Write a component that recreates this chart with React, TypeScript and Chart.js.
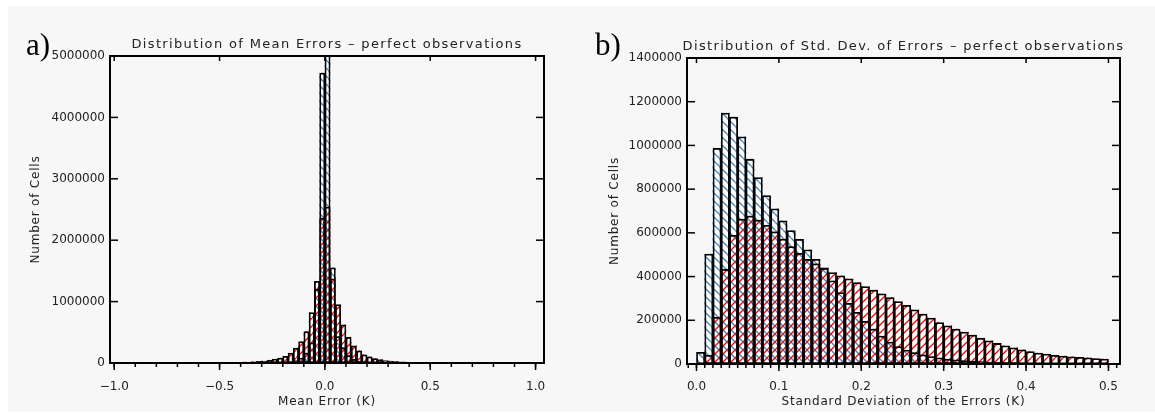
import React, { useRef, useEffect } from 'react';
import { Chart, registerables } from 'chart.js';

Chart.register(...registerables);

// a) mean errors: 0.025 K bins starting at -0.6 K
const MEAN_BIN = 0.025;
const MEAN_FIRST = -0.6;
const meanRed = [
  5000, 5000, 6000, 6000, 7000, 8000, 9000, 11000, 14000, 17000,
  21000, 26000, 32000, 45000, 62000, 80000, 110000, 160000, 245000, 350000,
  510000, 820000, 1330000, 2360000, 2540000, 1370000, 950000, 620000, 420000, 280000,
  200000, 135000, 100000, 72000, 55000, 40000, 31000, 24000, 18000, 14000,
  11000, 9000, 8000, 7000, 6000, 5000, 5000, 0,
];
const meanBlue = [
  0, 0, 0, 0, 0, 0, 0, 0, 0, 0,
  0, 0, 0, 0, 2000, 4000, 9000, 20000, 40000, 80000,
  160000, 330000, 1200000, 4720000, 5600000, 1550000, 430000, 250000, 120000, 60000,
  30000, 15000, 8000, 4000, 2000, 0, 0, 0, 0, 0,
  0, 0, 0, 0, 0, 0, 0, 0,
];
const meanXTicks = [-1.0, -0.5, 0.0, 0.5, 1.0];
const meanYTicks = [0, 1000000, 2000000, 3000000, 4000000, 5000000];

// b) std. dev. of errors: 0.01 K bins starting at 0
const STD_BIN = 0.01;
const STD_FIRST = 0.0;
const stdRed = [
  2000, 40000, 214000, 433000, 589000, 663000, 677000, 659000, 634000, 605000,
  572000, 537000, 506000, 479000, 458000, 438000, 418000, 403000, 390000, 372000,
  354000, 338000, 321000, 304000, 286000, 268000, 248000, 228000, 210000, 190000,
  175000, 160000, 146000, 132000, 118000, 106000, 94000, 83000, 74000, 65000,
  57000, 50000, 45000, 40000, 36000, 33000, 30000, 28000, 25000, 23000,
];
const stdBlue = [
  53000, 503000, 987000, 1148000, 1130000, 1039000, 937000, 853000, 771000, 710000,
  655000, 610000, 570000, 522000, 479000, 440000, 380000, 327000, 278000, 236000,
  195000, 160000, 128000, 100000, 80000, 64000, 52000, 42000, 34000, 28000,
  23000, 19000, 16000, 13000, 11000, 9000, 8000, 7000, 6000, 5000,
  4000, 4000, 3000, 3000, 2000, 2000, 2000, 1000, 1000, 1000,
];
const stdXTicks = [0.0, 0.1, 0.2, 0.3, 0.4, 0.5];
const stdYTicks = [0, 200000, 400000, 600000, 800000, 1000000, 1200000, 1400000];

interface PanelSpec {
  letter: string;
  title: string;
  xTitle: string;
  first: number;
  bin: number;
  red: number[];
  blue: number[];
  xTicks: number[];
  xMinor: number;
  yTicks: number[];
  xMin: number;
  xMax: number;
  yMax: number;
  width: number;
  padTop: number;
  padRight: number;
  yWidth: number;
  xHeight: number;
  xLabelPad: number;
  titleY: number;
  xTitleY: number;
  yTitleX: number;
  letterX: number;
  letterY: number;
}

const HEIGHT = 406;

const panelA: PanelSpec = {
  letter: 'a)',
  title: 'Distribution of Mean Errors – perfect observations',
  xTitle: 'Mean Error (K)',
  first: MEAN_FIRST, bin: MEAN_BIN, red: meanRed, blue: meanBlue,
  xTicks: meanXTicks, xMinor: 0.1, yTicks: meanYTicks,
  xMin: -1.02, xMax: 1.04, yMax: 5000000,
  width: 560, padTop: 50, padRight: 24, yWidth: 102, xHeight: 49, xLabelPad: 17,
  titleY: 42, xTitleY: 399, yTitleX: 28, letterX: 18, letterY: 49,
};

const panelB: PanelSpec = {
  letter: 'b)',
  title: 'Distribution of Std. Dev. of Errors – perfect observations',
  xTitle: 'Standard Deviation of the Errors (K)',
  first: STD_FIRST, bin: STD_BIN, red: stdRed, blue: stdBlue,
  xTicks: stdXTicks, xMinor: 0.01, yTicks: stdYTicks,
  xMin: -0.0115, xMax: 0.514, yMax: 1400000,
  width: 580, padTop: 52, padRight: 35, yWidth: 112, xHeight: 48, xLabelPad: 16,
  titleY: 44, xTitleY: 399, yTitleX: 40, letterX: 20, letterY: 49,
};

// diagonal line pattern, '/' when up is true, '\' otherwise
function hatch(ctx: CanvasRenderingContext2D, color: string, up: boolean) {
  const p = 8;
  const c = document.createElement('canvas');
  c.width = p;
  c.height = p;
  const g = c.getContext('2d')!;
  g.strokeStyle = color;
  g.lineWidth = 1.3;
  for (const k of [-p, 0, p]) {
    g.beginPath();
    if (up) {
      g.moveTo(k, p);
      g.lineTo(k + p, 0);
    } else {
      g.moveTo(k, 0);
      g.lineTo(k + p, p);
    }
    g.stroke();
  }
  return ctx.createPattern(c, 'repeat')!;
}

const decor = (s: PanelSpec) => ({
  id: 'decor',
  afterDraw(chart: any) {
    const { ctx, chartArea: a } = chart;
    const xs = chart.scales.x;
    const ys = chart.scales.y;
    const seg = (x1: number, y1: number, x2: number, y2: number) => {
      ctx.beginPath();
      ctx.moveTo(x1, y1);
      ctx.lineTo(x2, y2);
      ctx.stroke();
    };
    ctx.save();
    ctx.strokeStyle = '#000';
    ctx.lineWidth = 1.5;
    s.xTicks.forEach((v) => {
      const p = xs.getPixelForValue(v);
      seg(p, a.bottom, p, a.bottom + 7);
      seg(p, a.top, p, a.top + 5);
    });
    const k0 = Math.ceil(s.xMin / s.xMinor - 1e-6);
    const k1 = Math.floor(s.xMax / s.xMinor + 1e-6);
    for (let k = k0; k <= k1; k++) {
      const p = xs.getPixelForValue(k * s.xMinor);
      seg(p, a.bottom, p, a.bottom + 4);
    }
    s.yTicks.forEach((v) => {
      const p = ys.getPixelForValue(v);
      seg(a.left, p, a.left + 8, p);
      seg(a.right, p, a.right - 8, p);
    });
    ctx.lineWidth = 2;
    ctx.strokeRect(a.left, a.top, a.right - a.left, a.bottom - a.top);

    const cx = (a.left + a.right) / 2;
    ctx.fillStyle = '#222';
    ctx.textAlign = 'center';
    ctx.textBaseline = 'alphabetic';
    ctx.font = "13px 'DejaVu Sans'";
    ctx.letterSpacing = '1.35px';
    ctx.fillText(s.title, cx, s.titleY);
    ctx.font = "12px 'DejaVu Sans'";
    ctx.letterSpacing = '0.8px';
    ctx.fillText(s.xTitle, cx, s.xTitleY);
    ctx.save();
    ctx.translate(s.yTitleX, (a.top + a.bottom) / 2);
    ctx.rotate(-Math.PI / 2);
    ctx.textBaseline = 'middle';
    ctx.fillText('Number of Cells', 0, 0);
    ctx.restore();
    ctx.letterSpacing = '0px';
    ctx.fillStyle = '#000';
    ctx.textAlign = 'left';
    ctx.font = "31px 'Liberation Serif'";
    ctx.fillText(s.letter, s.letterX, s.letterY);
    ctx.restore();
  },
});

const Panel: React.FC<{ spec: PanelSpec; left: number }> = ({ spec, left }) => {
  const chartRef = useRef<HTMLCanvasElement>(null);

  useEffect(() => {
    if (!chartRef.current) return;
    const ctx = chartRef.current.getContext('2d');
    if (!ctx) return;

    const blueHatch = hatch(ctx, '#4682b4', false);
    const redHatch = hatch(ctx, '#ff0000', true);
    const pts = (vals: number[]) =>
      vals.map((v, i) => ({ x: spec.first + (i + 0.5) * spec.bin, y: v }));
    const layer = (vals: number[], fill: any, border: string | null, order: number) => ({
      data: pts(vals),
      backgroundColor: fill,
      borderColor: border || 'rgba(0,0,0,0)',
      borderWidth: border ? 1.1 : 0,
      borderSkipped: false,
      grouped: false,
      barPercentage: 1,
      categoryPercentage: 1,
      order,
    });
    const tickFont = { family: 'DejaVu Sans', size: 12 };

    const chart = new Chart(ctx, {
      type: 'bar',
      data: {
        datasets: [
          layer(spec.red, '#ffffff', null, 6),
          layer(spec.blue, '#ffffff', null, 5),
          layer(spec.blue, blueHatch, null, 4),
          layer(spec.red, redHatch, null, 3),
          layer(spec.red, 'rgba(0,0,0,0)', '#000', 2),
          layer(spec.blue, 'rgba(0,0,0,0)', '#000', 1),
        ] as any,
      },
      options: {
        animation: false,
        responsive: false,
        maintainAspectRatio: false,
        layout: { padding: { top: spec.padTop, right: spec.padRight, left: 0, bottom: 0 } },
        plugins: {
          legend: { display: false },
          tooltip: { enabled: false },
          title: { display: false },
        },
        scales: {
          x: {
            type: 'linear',
            offset: false,
            min: spec.xMin,
            max: spec.xMax,
            grid: { display: false, drawTicks: false, offset: false },
            border: { display: false },
            afterBuildTicks: (s: any) => {
              s.ticks = spec.xTicks.map((v) => ({ value: v }));
            },
            afterFit: (s: any) => {
              s.height = spec.xHeight;
            },
            ticks: {
              font: tickFont,
              color: '#222',
              padding: spec.xLabelPad,
              maxRotation: 0,
              autoSkip: false,
              callback: (v: any) => Number(v).toFixed(1).replace('-', '−'),
            },
          },
          y: {
            min: 0,
            max: spec.yMax,
            grid: { display: false, drawTicks: false },
            border: { display: false },
            afterBuildTicks: (s: any) => {
              s.ticks = spec.yTicks.map((v) => ({ value: v }));
            },
            afterFit: (s: any) => {
              s.width = spec.yWidth;
            },
            ticks: {
              font: tickFont,
              color: '#222',
              padding: 5,
              autoSkip: false,
              callback: (v: any) => String(v),
            },
          },
        } as any,
      },
      plugins: [decor(spec)],
    });

    return () => {
      chart.destroy();
    };
  }, [spec]);

  return (
    <canvas
      ref={chartRef}
      width={spec.width}
      height={HEIGHT}
      style={{ position: 'absolute', left, top: 0 }}
    />
  );
};

const App: React.FC = () => (
  <div
    style={{
      position: 'absolute',
      left: 8,
      top: 6,
      width: 1147,
      height: HEIGHT,
      background: '#f7f7f7',
    }}
  >
    <Panel spec={panelA} left={0} />
    <Panel spec={panelB} left={567} />
  </div>
);

export default App;
